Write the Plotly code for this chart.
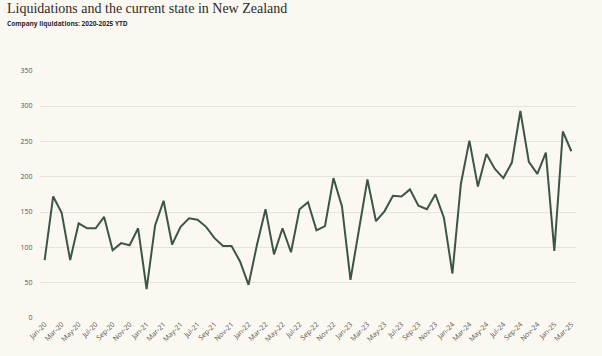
import plotly.graph_objects as go

months = ["Jan", "Feb", "Mar", "Apr", "May", "Jun", "Jul", "Aug", "Sep", "Oct", "Nov", "Dec"]
years = ["20", "21", "22", "23", "24", "25"]
labels = [f"{m}-{y}" for y in years for m in months][:63]

liquidations = [
    82, 172, 149, 82, 134, 127, 127, 143, 96, 106, 103, 127,   # 2020
    41, 131, 166, 104, 129, 141, 139, 129, 113, 102, 102, 80,  # 2021
    47, 104, 154, 90, 127, 93, 154, 164, 124, 130, 198, 158,   # 2022
    54, 127, 196, 137, 151, 173, 172, 182, 159, 154, 175, 142, # 2023
    63, 190, 251, 186, 232, 211, 198, 220, 293, 221, 204, 234, # 2024
    95, 264, 236,                                              # 2025 YTD
]

tick_labels = labels[::2]
y_ticks = [0, 50, 100, 150, 200, 250, 300, 350]

bg = "#FBF8F1"
fig = go.Figure(go.Scatter(
    x=labels, y=liquidations, mode="lines",
    line=dict(color="#3B5646", width=2),
))
fig.update_layout(
    width=602, height=356,
    paper_bgcolor=bg, plot_bgcolor=bg,
    margin=dict(l=40, r=26, t=70, b=38),
    showlegend=False,
    annotations=[
        dict(text="Liquidations and the current state in New Zealand", x=0, y=(318 - 8) / 248,
             xref="paper", yref="paper", xanchor="left", yanchor="middle", xshift=-35, showarrow=False,
             font=dict(family="Liberation Serif", size=14, color="#2b2b2b")),
        dict(text="<b>Company liquidations: 2020-2025 YTD</b>", x=0, y=(318 - 24) / 248,
             xref="paper", yref="paper", xanchor="left", yanchor="middle", xshift=-35, showarrow=False,
             font=dict(family="Open Sans", size=6.5, color="#2b2b2b")),
    ],
)
fig.update_xaxes(
    type="category", range=[-0.55, 62.55],
    tickmode="array", tickvals=tick_labels, ticktext=tick_labels,
    tickangle=-45, showgrid=False, showline=False, zeroline=False, ticks="",
    tickfont=dict(family="Open Sans", size=7, color="#555555"),
)
fig.update_yaxes(
    range=[0, 351], tickvals=y_ticks, showgrid=True, gridcolor="#E6E4DE", gridwidth=1,
    zeroline=False, showline=False, ticks="outside", ticklen=5, tickcolor="rgba(0,0,0,0)",
    tickfont=dict(family="Open Sans", size=7, color="#555555"),
)
fig.write_html(
    "out.html",
    config={"displayModeBar": False},
    post_script="document.body.style.margin='0';document.body.style.background='" + bg + "';",
)
